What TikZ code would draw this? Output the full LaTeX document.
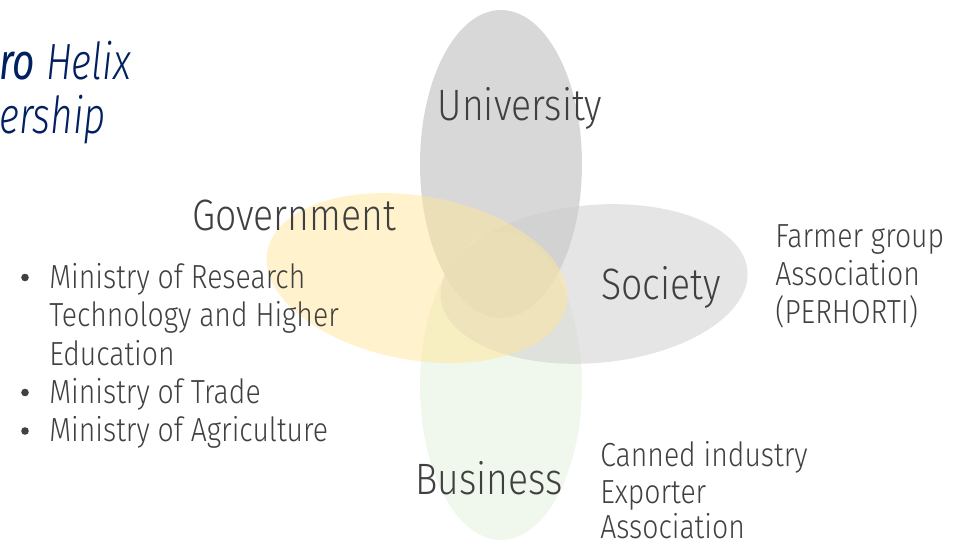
\documentclass[tikz,border=0pt]{standalone}
\usepackage{fontspec}
\setmainfont{Fira Sans}[UprightFont=* Light, ItalicFont=* Light Italic, BoldFont=*, BoldItalicFont=* Italic, FakeStretch=0.85]
\newfontfamily\headfont{Fira Sans}[UprightFont=* Light Italic, BoldFont=* Italic, FakeStretch=0.76]
\usetikzlibrary{shapes.geometric}

\definecolor{txtgray}{HTML}{404040}
\definecolor{navy}{HTML}{002060}
\definecolor{unigray}{HTML}{B2B2B2}
\definecolor{socgray}{HTML}{CCCCCC}
\definecolor{govyellow}{HTML}{FFE699}
\definecolor{busgreen}{HTML}{E2EFDA}

\begin{document}
\begin{tikzpicture}[
    x=0.02cm, y=-0.02cm,
    petal/.style={ellipse, draw=none, fill opacity=0.5, inner sep=0pt},
    helix/.style={text=txtgray, inner sep=0pt, font=\fontsize{25}{30}\selectfont},
    member/.style={text=txtgray, inner sep=0pt, anchor=base west, font=\fontsize{19}{22}\selectfont},
    headline/.style={text=navy, inner sep=0pt, anchor=base west, font=\fontsize{29}{33}\headfont}
]
\useasboundingbox (0,0) rectangle (968,546);

% Petals
\node[petal, fill=unigray, minimum width=3.24cm, minimum height=6.16cm] (uni) at (501,164) {};
\node[petal, fill=busgreen, minimum width=3.24cm, minimum height=6.16cm] (bus) at (501,386) {};
\node[petal, fill=socgray, minimum width=6.16cm, minimum height=3.16cm, rotate=5] (soc) at (594,284) {};
\node[petal, fill=govyellow, minimum width=6.08cm, minimum height=3.28cm, rotate=-10] (gov) at (417,278) {};

% Title (cut at the left edge)
\node[headline] (head1) at (-1,80) {{\bfseries ro} Helix};
\node[headline] (head2) at (-1,134) {ership};

% Helix labels
\node[helix] (unilabel) at (520,108) {University};
\node[helix] (govlabel) at (294,215) {Government};
\node[helix] (soclabel) at (661,287) {Society};
\node[helix] (buslabel) at (489,478) {Business};

% Government members
\node[member] (gov1) at (49,288.5) {Ministry of Research};
\node[member] (gov2) at (49,327) {Technology and Higher};
\node[member] (gov3) at (49,365.5) {Education};
\node[member] (gov4) at (49,403.5) {Ministry of Trade};
\node[member] (gov5) at (49,442) {Ministry of Agriculture};
\foreach \g in {gov1,gov4,gov5}
  \fill[txtgray] (\g.base west) ++(-24,-11) circle [radius=3.8];

% Society members
\node[member] (soc1) at (775,248) {Farmer group};
\node[member] (soc2) at (775,285.5) {Association};
\node[member] (soc3) at (775,324) {(PERHORTI)};

% Business members
\node[member] (bus1) at (600,467) {Canned industry};
\node[member] (bus2) at (600,504) {Exporter};
\node[member] (bus3) at (600,539) {Association};

\end{tikzpicture}
\end{document}
